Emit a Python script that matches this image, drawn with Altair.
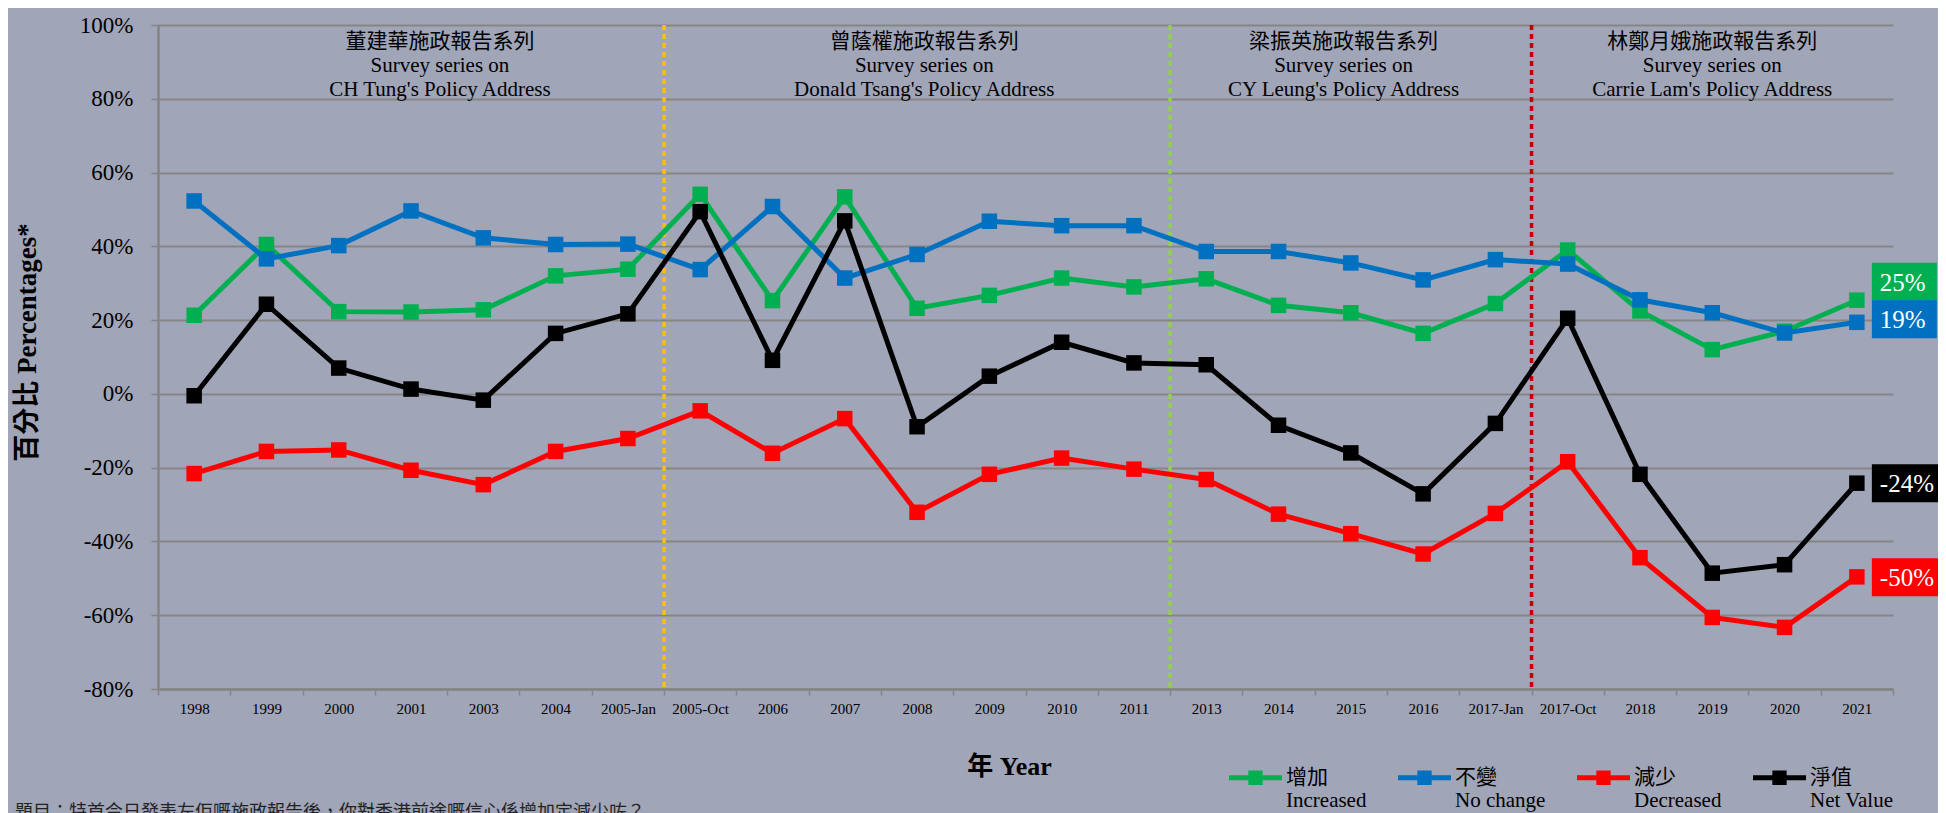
import altair as alt
import pandas as pd

# ---------------- data ----------------
years = ["1998", "1999", "2000", "2001", "2003", "2004", "2005-Jan", "2005-Oct",
         "2006", "2007", "2008", "2009", "2010", "2011", "2013", "2014", "2015",
         "2016", "2017-Jan", "2017-Oct", "2018", "2019", "2020", "2021"]

increased = [21.3, 40.5, 22.3, 22.2, 22.8, 32.0, 33.8, 54.1, 25.3, 53.4, 23.2, 26.7,
             31.4, 29.0, 31.2, 24.0, 22.0, 16.4, 24.5, 39.0, 22.5, 12.0, 17.0, 25.4]
no_change = [52.3, 36.6, 40.2, 49.6, 42.3, 40.5, 40.6, 33.7, 50.8, 31.4, 37.8, 46.8,
             45.6, 45.6, 38.6, 38.6, 35.5, 30.9, 36.4, 35.2, 25.5, 22.0, 16.5, 19.4]
decreased = [-21.6, -15.6, -15.2, -20.7, -24.6, -15.6, -12.1, -4.6, -16.1, -6.7, -32.1, -21.8,
             -17.4, -20.4, -23.2, -32.6, -37.9, -43.4, -32.4, -18.4, -44.4, -60.6, -63.3, -49.6]
net_value = [-0.5, 24.3, 7.0, 1.3, -1.7, 16.4, 21.7, 49.4, 9.1, 46.9, -8.9, 4.8,
             14.0, 8.4, 7.9, -8.5, -16.0, -27.1, -8.0, 20.5, -21.8, -48.6, -46.3, -24.2]

series_cn = ["增加", "不變", "減少", "淨值"]
series_en = ["Increased", "No change", "Decreased", "Net Value"]
series_colors = ["#00B050", "#0070C0", "#FF0000", "#000000"]

# section dividers: a divider sits just before these categories
divider_before = ["2005-Oct", "2013", "2017-Oct"]
divider_colors = ["#FFC000", "#92D050", "#C00000"]

section_cn = ["董建華施政報告系列", "曾蔭權施政報告系列", "梁振英施政報告系列", "林鄭月娥施政報告系列"]
section_en = ["CH Tung's Policy Address", "Donald Tsang's Policy Address",
              "CY Leung's Policy Address", "Carrie Lam's Policy Address"]
section_x = [3.4, 10.1, 15.9, 21.0]

question = "題目：特首今日發表左佢嘅施政報告後，你對香港前途嘅信心係增加定減少咗？"

# ---------------- tables ----------------
rows = []
for s, vals in zip(series_cn, [increased, no_change, decreased, net_value]):
    for i, (c, v) in enumerate(zip(years, vals)):
        rows.append({"idx": i, "cat": c, "series": s, "value": v / 100.0})
df = pd.DataFrame(rows)

div_df = pd.DataFrame({"pos": [years.index(c) - 0.5 for c in divider_before],
                       "col": divider_colors})
ann_df = pd.DataFrame({"ax": section_x, "ay": [1.0] * 4,
                       "txt": [[cn, "Survey series on", en] for cn, en in zip(section_cn, section_en)]})
q_df = pd.DataFrame({"qx": [-0.5], "qy": [-0.8], "txt": [question]})

# ---------------- layout ----------------
W, H = 1735, 664
band = W / len(years)
SERIF = "Liberation Serif, Times New Roman, Noto Sans CJK TC"
BG = "#A0A5B8"
GRID = "#858585"
MINUS = "\u2212"

xs = alt.Scale(domain=[-0.5, len(years) - 0.5], nice=False, zero=False)
ys = alt.Scale(domain=[-0.8, 1.0], nice=False, zero=False)

labels_js = "[" + ",".join("'%s'" % y for y in years) + "]"
x_axis = alt.Axis(values=[i - 0.5 for i in range(len(years) + 1)],
                  labelExpr=labels_js + "[round(datum.value + 0.5)] || ''",
                  labelOffset=band / 2, labelOverlap=False, labelFlush=False,
                  labelFont=SERIF, labelFontSize=15, labelColor="black", labelPadding=6,
                  tickSize=6, tickColor=GRID, tickWidth=1.5,
                  domainColor=GRID, domainWidth=2.5, grid=False,
                  titleFont=SERIF, titleFontSize=26, titleFontWeight="bold", titleColor="black",
                  titleX=851, titleY=77, titleAlign="center", titleBaseline="middle")
y_axis = alt.Axis(values=[-0.8, -0.6, -0.4, -0.2, 0.0, 0.2, 0.4, 0.6, 0.8, 1.0], format=".0%",
                  labelExpr="replace(datum.label, '%s', '-')" % MINUS,
                  labelFont=SERIF, labelFontSize=23, labelColor="black", labelPadding=18,
                  tickSize=7, tickColor=GRID, tickWidth=1.5,
                  domainColor=GRID, domainWidth=2.5,
                  grid=True, gridColor=GRID, gridWidth=2.2,
                  titleFont=SERIF, titleFontSize=27, titleFontWeight="bold", titleColor="black",
                  titleX=-131, titleY=317, titleAlign="center", titleBaseline="middle", titleAngle=-90)


def X(field):
    return alt.X(field, type="quantitative", scale=xs, axis=x_axis, title="年 Year")


def Y(field):
    return alt.Y(field, type="quantitative", scale=ys, axis=y_axis, title="百分比 Percentages*")


legend_path = ("M-1,-0.095L1,-0.095L1,0.095L-1,0.095Z"
               "M-0.27,-0.27L0.27,-0.27L0.27,0.27L-0.27,0.27Z")
legend_expr = " : ".join("datum.label == '%s' ? ['%s', '%s']" % (c, c, e)
                         for c, e in zip(series_cn, series_en)) + " : datum.label"
legend = alt.Legend(orient="none", legendX=1071, legendY=726, direction="horizontal", title=None,
                    symbolType=legend_path, symbolSize=2809, symbolStrokeWidth=0, symbolOpacity=1,
                    labelFont=SERIF, labelFontSize=21, labelColor="black", labelBaseline="middle",
                    labelOffset=4, labelExpr=legend_expr, labelLimit=300,
                    columnPadding=31)
color_scale = alt.Scale(domain=series_cn, range=series_colors)

layers = []

# dividers
layers.append(alt.Chart(div_df).mark_rule(strokeWidth=3.5, strokeDash=[5, 4]).encode(
    x=X("pos"), color=alt.Color("col:N", scale=None)))

# section annotations
layers.append(alt.Chart(ann_df).mark_text(font=SERIF, fontSize=21, color="black", align="center",
                                           baseline="middle", lineHeight=24, dy=17).encode(
    x=X("ax"), y=Y("ay"), text="txt"))

# series (line + square markers, drawn series by series)
for s, col in zip(series_cn, series_colors):
    sub = alt.Chart(df).transform_filter(alt.datum.series == s)
    layers.append(sub.mark_line(strokeWidth=5, color=col).encode(x=X("idx"), y=Y("value")))
    layers.append(sub.mark_point(shape="square", filled=True, size=240, opacity=1).encode(
        x=X("idx"), y=Y("value"), color=alt.Color("series:N", scale=color_scale, legend=legend)))

# end labels
shifts = {"增加": -18.5, "不變": -3, "減少": 0.5, "淨值": 0}
widths = {"增加": 80, "不變": 80, "減少": 100, "淨值": 100}
for s, col in zip(series_cn, series_colors):
    last = alt.Chart(df).transform_filter(
        (alt.datum.series == s) & (alt.datum.idx == len(years) - 1)
    ).transform_calculate(lbl="replace(format(datum.value, '.0%%'), '%s', '-')" % MINUS)
    sh = shifts[s]
    layers.append(last.mark_rect(color=col, xOffset=15, x2Offset=widths[s],
                                 yOffset=sh - 19, y2Offset=sh + 19).encode(
        x=X("idx"), x2="idx", y=Y("value"), y2="value"))
    layers.append(last.mark_text(font=SERIF, fontSize=25, color="white", align="left",
                                 baseline="middle", dx=23, dy=sh + 1).encode(
        x=X("idx"), y=Y("value"), text="lbl:N"))

# question caption (bottom-left, mostly below the window)
layers.append(alt.Chart(q_df).mark_text(font="Noto Sans CJK TC", fontSize=18, color="#222222",
                                         align="left", baseline="top", dx=-143, dy=115).encode(
    x=X("qx"), y=Y("qy"), text="txt"))

chart = alt.layer(*layers).properties(
    width=W, height=H, background=BG,
    autosize=alt.AutoSizeParams(type="none"),
    padding={"left": 150, "top": 17, "right": 45, "bottom": 140},
).configure_view(stroke=None)

chart.save("out.html", embed_options={"renderer": "svg", "actions": False})
